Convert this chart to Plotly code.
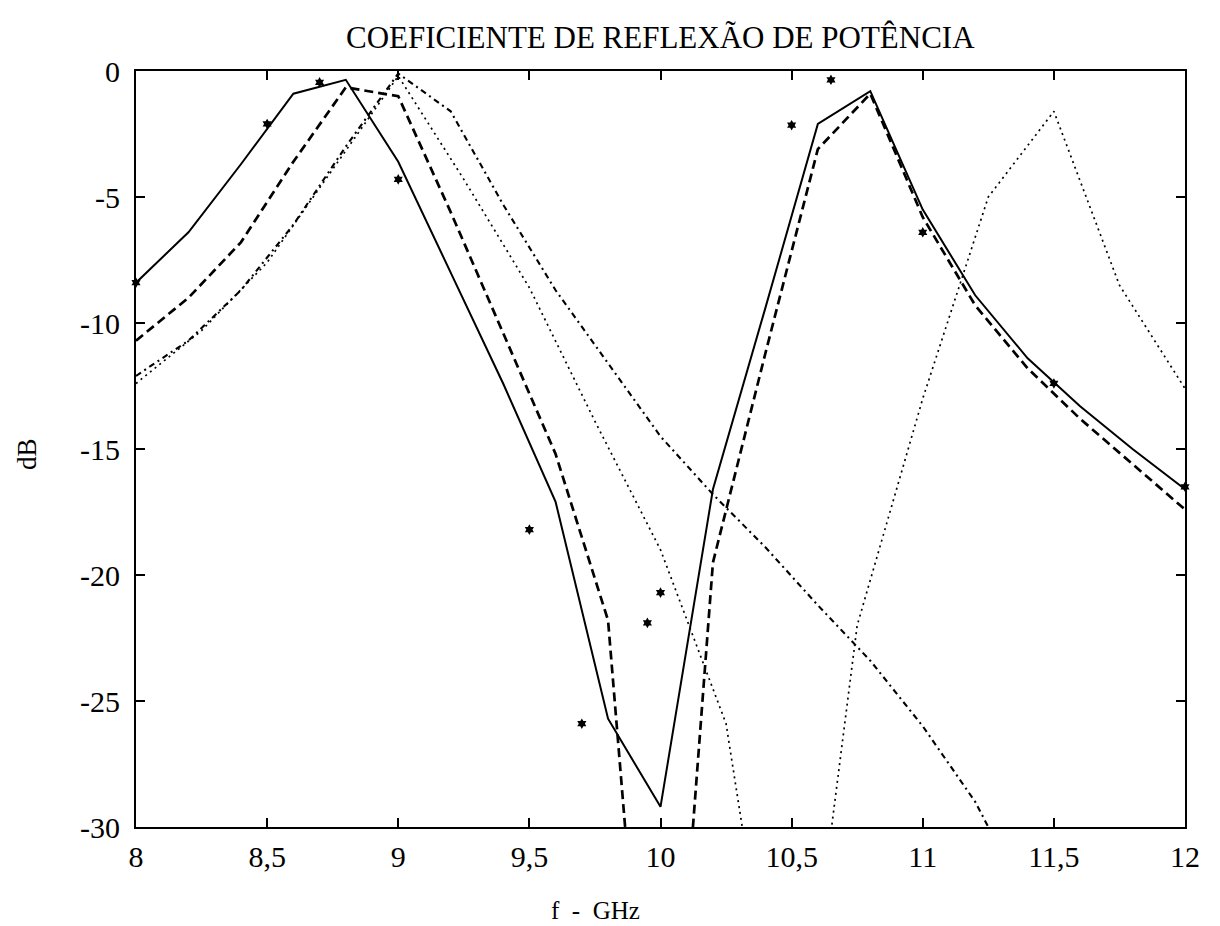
import plotly.graph_objects as go

# ---- data ----
f_02 = [8.0, 8.2, 8.4, 8.6, 8.8, 9.0, 9.2, 9.4, 9.6, 9.8, 10.0,
        10.2, 10.4, 10.6, 10.8, 11.0, 11.2, 11.4, 11.6, 11.8, 12.0]

solid_db = [-8.4, -6.4, -3.7, -0.9, -0.35, -3.6, -8.0, -12.4, -17.1, -25.7, -29.2,
            -16.6, -9.4, -2.1, -0.8, -5.5, -8.9, -11.4, -13.3, -15.0, -16.6]

dashed_db = [-10.7, -9.0, -6.8, -3.6, -0.65, -1.0, -5.6, -10.4, -15.2, -21.8, -47.0,
             -19.5, -11.2, -3.1, -0.9, -5.8, -9.3, -11.8, -13.8, -15.6, -17.4]

f_dashdot = [8.0, 8.2, 8.4, 8.6, 8.8, 9.0, 9.2, 9.4, 9.6, 9.8, 10.0,
             10.2, 10.4, 10.6, 10.8, 11.0, 11.2, 11.4]
dashdot_db = [-12.1, -10.7, -8.7, -6.1, -3.0, -0.1, -1.6, -5.3, -8.7, -11.6, -14.5,
              -16.8, -18.9, -21.2, -23.4, -26.0, -29.0, -33.0]

f_dot = [8.0, 8.25, 8.5, 8.75, 9.0, 9.25, 9.5, 9.75, 10.0, 10.25, 10.5,
         10.75, 11.0, 11.25, 11.5, 11.75, 12.0]
dot_db = [-12.4, -10.3, -7.6, -3.9, -0.2, -4.3, -8.6, -13.9, -19.0, -25.9, -42.5,
          -22.0, -13.0, -5.0, -1.6, -8.5, -12.6]

meas_f = [8.0, 8.5, 8.7, 9.0, 9.5, 9.7, 9.95, 10.0, 10.5, 10.65, 11.0, 11.5, 12.0]
meas_db = [-8.4, -2.1, -0.45, -4.3, -18.2, -25.9, -21.9, -20.7, -2.15, -0.35, -6.4, -12.4, -16.5]

x_ticks = [8, 8.5, 9, 9.5, 10, 10.5, 11, 11.5, 12]
x_ticktext = ["8", "8,5", "9", "9,5", "10", "10,5", "11", "11,5", "12"]
y_ticks = [0, -5, -10, -15, -20, -25, -30]
y_ticktext = ["0", "-5", "-10", "-15", "-20", "-25", "-30"]

title_text = "COEFICIENTE DE REFLEXÃO DE POTÊNCIA"
x_title = "f  -  GHz"
y_title = "dB"

FONT = "Liberation Serif"

fig = go.Figure()
fig.add_trace(go.Scatter(x=f_02, y=solid_db, mode="lines",
                         line=dict(color="black", width=2.0), showlegend=False))
fig.add_trace(go.Scatter(x=f_02, y=dashed_db, mode="lines",
                         line=dict(color="black", width=2.7, dash="9px,5px"), showlegend=False))
fig.add_trace(go.Scatter(x=f_dashdot, y=dashdot_db, mode="lines",
                         line=dict(color="black", width=2.1, dash="6px,4px,2px,4px"), showlegend=False))
fig.add_trace(go.Scatter(x=f_dot, y=dot_db, mode="lines",
                         line=dict(color="black", width=1.7, dash="2px,4px"), showlegend=False))
fig.add_trace(go.Scatter(x=meas_f, y=meas_db, mode="markers",
                         marker=dict(symbol="hexagram", size=8, color="black"),
                         cliponaxis=False, showlegend=False))

L, R, T, B = 136, 35, 71, 99
W, H = 1220, 926
plot_h = H - T - B
plot_w = W - L - R

def py(p):
    return (H - B - p) / plot_h

def px(p):
    return (p - L) / plot_w

fig.update_layout(
    width=W, height=H,
    margin=dict(l=L, r=R, t=T, b=B, autoexpand=False),
    paper_bgcolor="white", plot_bgcolor="white",
    font=dict(family=FONT, color="black", size=30),
    annotations=[
        dict(text=title_text, x=0.5, y=py(37), xref="paper", yref="paper",
             xanchor="center", yanchor="middle", showarrow=False,
             font=dict(family=FONT, size=31, color="black")),
        dict(text=x_title, x=px(595), y=py(910), xref="paper", yref="paper",
             xanchor="center", yanchor="middle", showarrow=False,
             font=dict(family=FONT, size=25, color="black")),
        dict(text=y_title, x=px(27), y=py(454), xref="paper", yref="paper",
             xanchor="center", yanchor="middle", showarrow=False, textangle=-90,
             font=dict(family=FONT, size=27, color="black")),
    ],
)
fig.update_xaxes(range=[8, 12], tickvals=x_ticks, ticktext=x_ticktext,
                 ticks="inside", ticklen=9, tickwidth=2, tickcolor="black",
                 showline=True, linecolor="black", linewidth=2, mirror="ticks",
                 showgrid=False, zeroline=False, ticklabelstandoff=2,
                 tickfont=dict(family=FONT, size=30, color="black"))
fig.update_yaxes(range=[-30, 0], tickvals=y_ticks, ticktext=y_ticktext,
                 ticks="inside", ticklen=9, tickwidth=2, tickcolor="black",
                 showline=True, linecolor="black", linewidth=2, mirror="ticks",
                 showgrid=False, zeroline=False, ticklabelstandoff=8,
                 tickfont=dict(family=FONT, size=30, color="black"))

fig.write_html("out.html")
